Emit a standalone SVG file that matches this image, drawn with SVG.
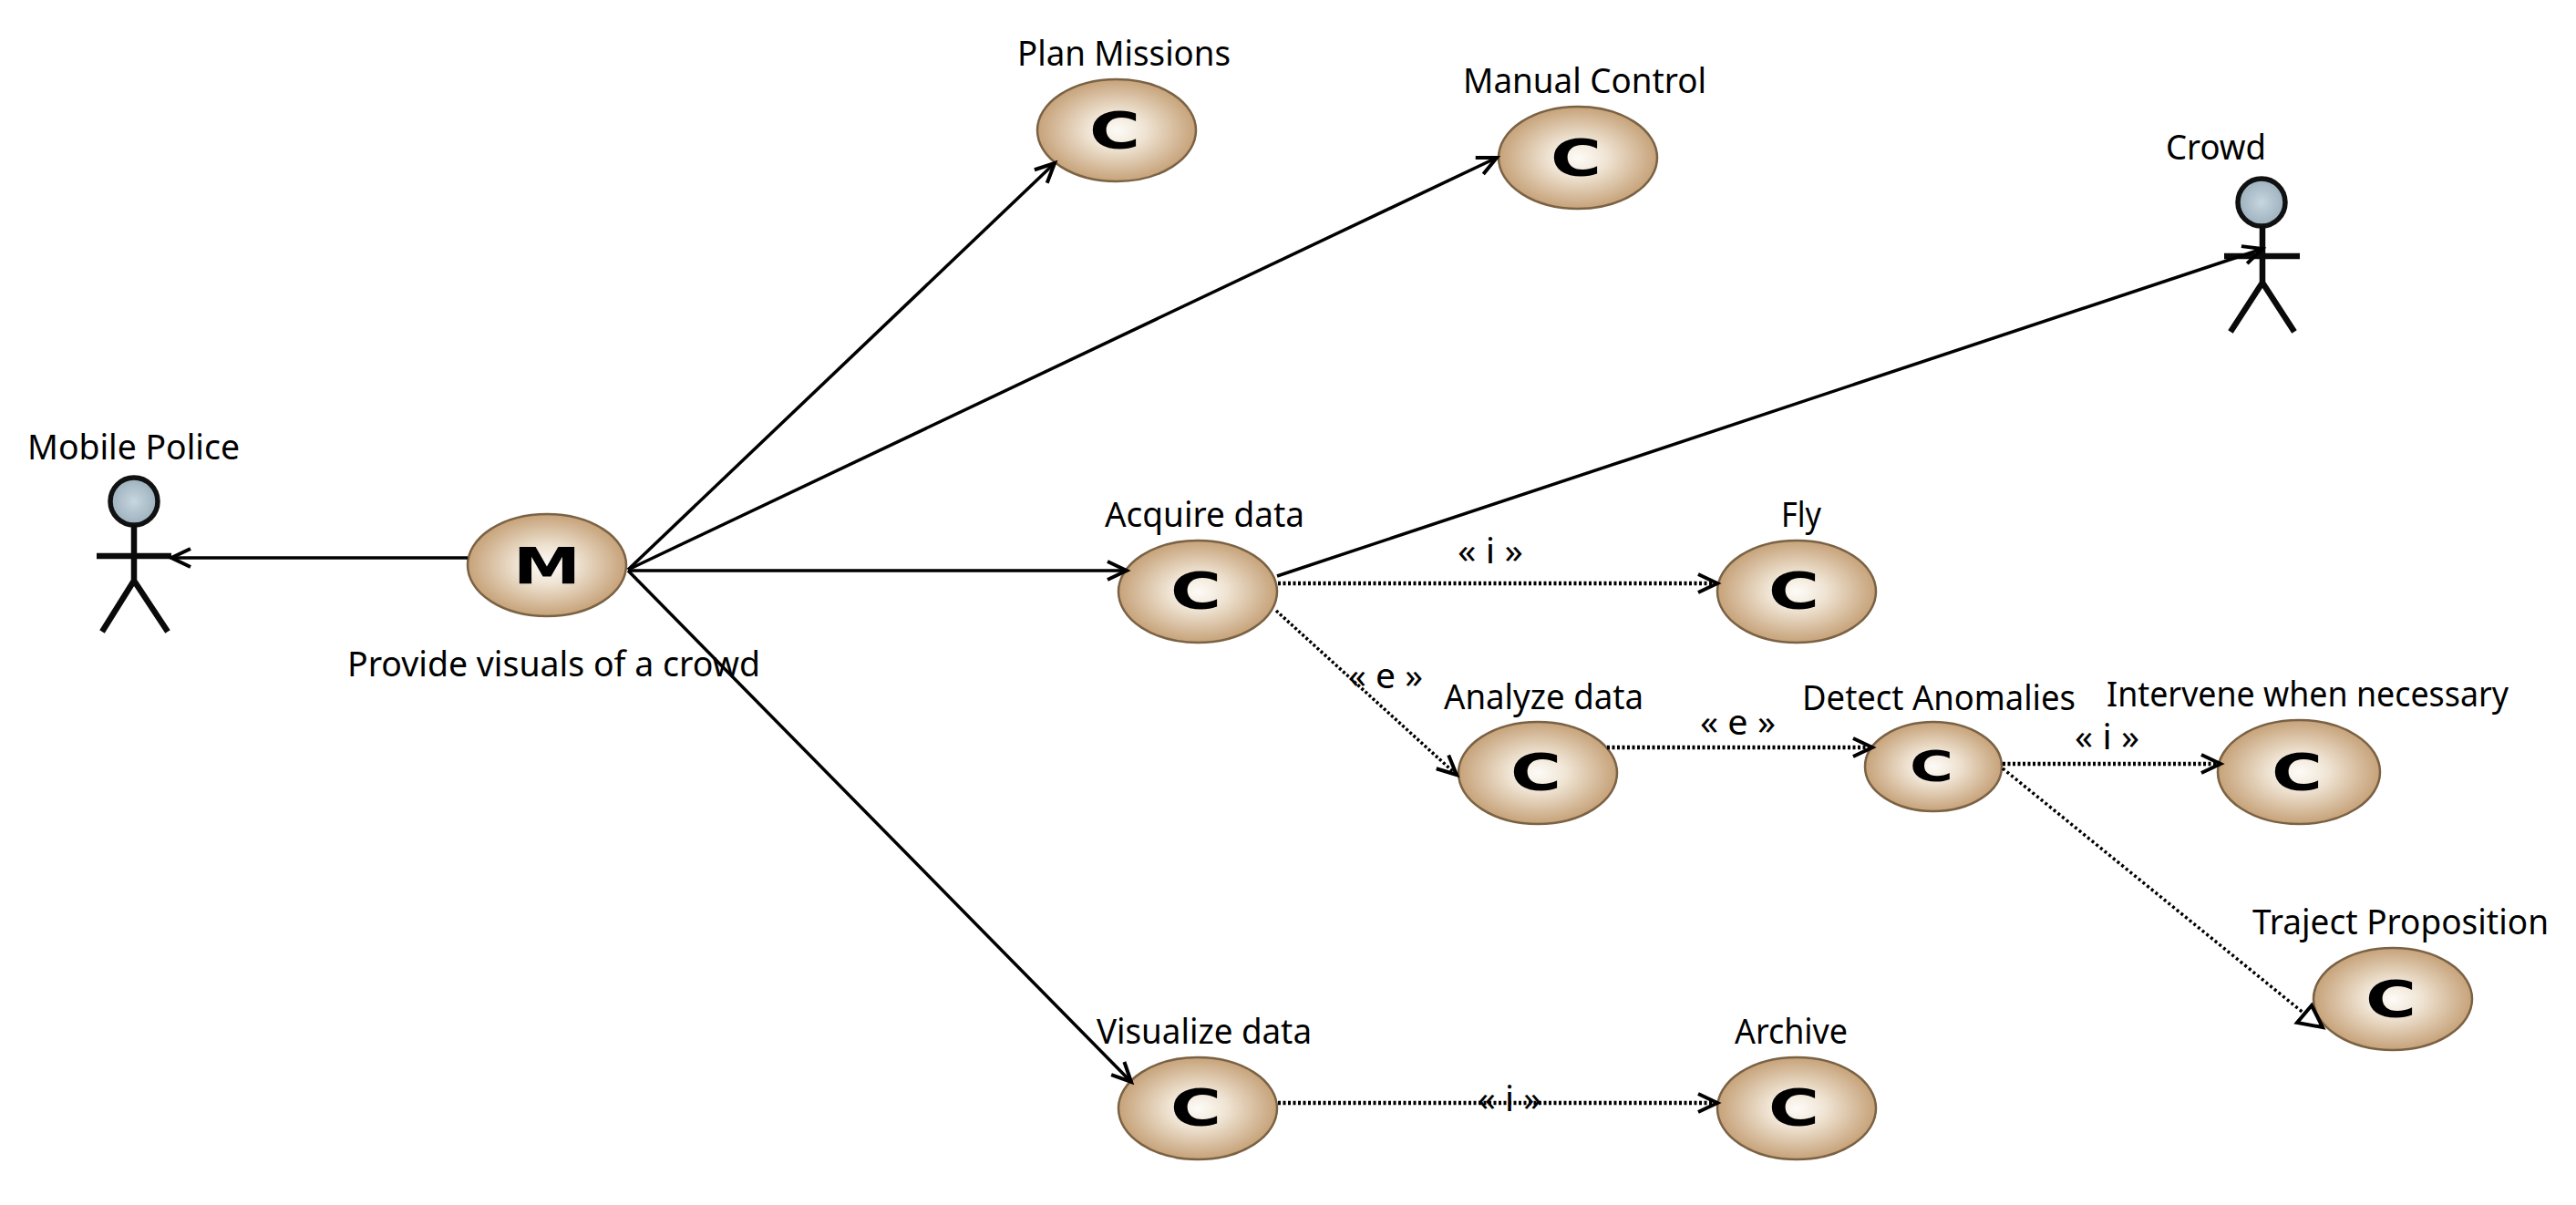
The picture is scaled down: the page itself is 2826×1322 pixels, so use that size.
<svg xmlns="http://www.w3.org/2000/svg" width="2826" height="1322" viewBox="0 0 2826 1322">
<style>
text{font-family:"Noto Sans","Open Sans","Liberation Sans",sans-serif;font-size:39px;fill:#000}
.c{font-family:"DejaVu Sans","Liberation Sans",sans-serif;font-weight:700;font-size:55px;text-anchor:middle}
.u{fill:url(#ug);stroke:#7a6244;stroke-width:2.5}
.h{fill:url(#ag);stroke:#111;stroke-width:5.5}
.a{fill:none;stroke:#0a0a0a;stroke-width:6.5;stroke-linecap:butt}
.s{fill:none;stroke:#000;stroke-width:3.5;marker-end:url(#open)}
.d{fill:none;stroke:#000;stroke-width:4.5;stroke-dasharray:3 2.5;marker-end:url(#open)}
.t{fill:none;stroke:#000;stroke-width:3.5;stroke-dasharray:3 3}
</style>
<defs>
<radialGradient id="ug"><stop offset="0" stop-color="#fdfbf7"/><stop offset="0.35" stop-color="#f0e5d5"/><stop offset="1" stop-color="#c6a279"/></radialGradient>
<radialGradient id="ag"><stop offset="0" stop-color="#c8d6df"/><stop offset="1" stop-color="#9bb0bd"/></radialGradient>
<marker id="open" markerUnits="userSpaceOnUse" markerWidth="30" markerHeight="30" refX="24" refY="15" orient="auto" overflow="visible"><path d="M3 5 L24 15 L3 25" fill="none" stroke="#000" stroke-width="4"/></marker>
</defs>
<rect width="2826" height="1322" fill="#fff"/>
<g id="mobile-police">
<ellipse class="h" cx="147" cy="550" rx="26" ry="26"/>
<path class="a" d="M147 576V637M106 610H188M147 637L112 693M147 637L184 693"/>
<text x="30" y="504" textLength="233" lengthAdjust="spacingAndGlyphs">Mobile Police</text>
</g>
<g id="crowd">
<ellipse class="h" cx="2481" cy="222" rx="26" ry="26"/>
<path class="a" d="M2482 248V310M2440 281H2523M2482 310L2447 364M2482 310L2517 364"/>
<text x="2376" y="175" textLength="110" lengthAdjust="spacingAndGlyphs">Crowd</text>
</g>
<g id="provide-visuals">
<ellipse class="u" cx="600" cy="620" rx="87" ry="56"/>
<text class="c" x="600" y="640" textLength="74" lengthAdjust="spacingAndGlyphs">M</text>
<text x="381" y="742" textLength="453" lengthAdjust="spacingAndGlyphs">Provide visuals of a crowd</text>
</g>
<g id="plan-missions">
<ellipse class="u" cx="1225" cy="143" rx="87" ry="56"/>
<text class="c" x="1223" y="162" textLength="56" lengthAdjust="spacingAndGlyphs">C</text>
<text x="1116" y="72" textLength="234" lengthAdjust="spacingAndGlyphs">Plan Missions</text>
</g>
<g id="manual-control">
<ellipse class="u" cx="1731" cy="173" rx="87" ry="56"/>
<text class="c" x="1729" y="192" textLength="56" lengthAdjust="spacingAndGlyphs">C</text>
<text x="1605" y="102" textLength="267" lengthAdjust="spacingAndGlyphs">Manual Control</text>
</g>
<g id="acquire-data">
<ellipse class="u" cx="1314" cy="649" rx="87" ry="56"/>
<text class="c" x="1312" y="667" textLength="56" lengthAdjust="spacingAndGlyphs">C</text>
<text x="1212" y="578" textLength="219" lengthAdjust="spacingAndGlyphs">Acquire data</text>
</g>
<g id="fly">
<ellipse class="u" cx="1971" cy="649" rx="87" ry="56"/>
<text class="c" x="1968" y="667" textLength="56" lengthAdjust="spacingAndGlyphs">C</text>
<text x="1954" y="578" textLength="44" lengthAdjust="spacingAndGlyphs">Fly</text>
</g>
<g id="analyze-data">
<ellipse class="u" cx="1687" cy="848" rx="87" ry="56"/>
<text class="c" x="1685" y="866" textLength="56" lengthAdjust="spacingAndGlyphs">C</text>
<text x="1584" y="778" textLength="219" lengthAdjust="spacingAndGlyphs">Analyze data</text>
</g>
<g id="detect-anomalies">
<ellipse class="u" cx="2121" cy="841" rx="75" ry="49"/>
<text class="c" x="2119" y="857" style="font-size:46px" textLength="48" lengthAdjust="spacingAndGlyphs">C</text>
<text x="1977" y="779" textLength="300" lengthAdjust="spacingAndGlyphs">Detect Anomalies</text>
</g>
<g id="intervene">
<ellipse class="u" cx="2522" cy="847" rx="89" ry="57"/>
<text class="c" x="2520" y="866" textLength="56" lengthAdjust="spacingAndGlyphs">C</text>
<text x="2311" y="775" textLength="441" lengthAdjust="spacingAndGlyphs">Intervene when necessary</text>
</g>
<g id="traject-proposition">
<ellipse class="u" cx="2625" cy="1096" rx="87" ry="56"/>
<text class="c" x="2623" y="1115" textLength="56" lengthAdjust="spacingAndGlyphs">C</text>
<text x="2471" y="1025" textLength="325" lengthAdjust="spacingAndGlyphs">Traject Proposition</text>
</g>
<g id="visualize-data">
<ellipse class="u" cx="1314" cy="1216" rx="87" ry="56"/>
<text class="c" x="1312" y="1234" textLength="56" lengthAdjust="spacingAndGlyphs">C</text>
<text x="1203" y="1145" textLength="236" lengthAdjust="spacingAndGlyphs">Visualize data</text>
</g>
<g id="archive">
<ellipse class="u" cx="1971" cy="1216" rx="87" ry="56"/>
<text class="c" x="1968" y="1234" textLength="56" lengthAdjust="spacingAndGlyphs">C</text>
<text x="1903" y="1145" textLength="124" lengthAdjust="spacingAndGlyphs">Archive</text>
</g>
<g id="connectors">
<path class="s" d="M513 612H188"/>
<path class="s" d="M689 625L1157 179"/>
<path class="s" d="M689 625L1642 173"/>
<path class="s" d="M689 626H1236"/>
<path class="s" d="M689 626L1241 1187"/>
<path class="s" d="M1401 632L2482 273"/>
<path class="d" d="M1402 640H1884"/>
<path class="d" d="M1400 670L1598 850" style="stroke-width:3.5"/>
<path class="d" d="M1763 820H2054"/>
<path class="d" d="M2197 838H2436"/>
<path class="d" d="M1402 1210H1884"/>
<path class="t" d="M2197 843L2528 1112"/>
<path d="M2536 1103L2520 1122L2548 1127Z" fill="#fff" stroke="#000" stroke-width="4"/>
<text x="1599" y="618" textLength="72" lengthAdjust="spacingAndGlyphs">« i »</text>
<text x="1479" y="755" textLength="82" lengthAdjust="spacingAndGlyphs">« e »</text>
<text x="1865" y="806" textLength="83" lengthAdjust="spacingAndGlyphs">« e »</text>
<text x="2276" y="822" textLength="71" lengthAdjust="spacingAndGlyphs">« i »</text>
<text x="1621" y="1219" textLength="70" lengthAdjust="spacingAndGlyphs">« i »</text>
</g>
</svg>
